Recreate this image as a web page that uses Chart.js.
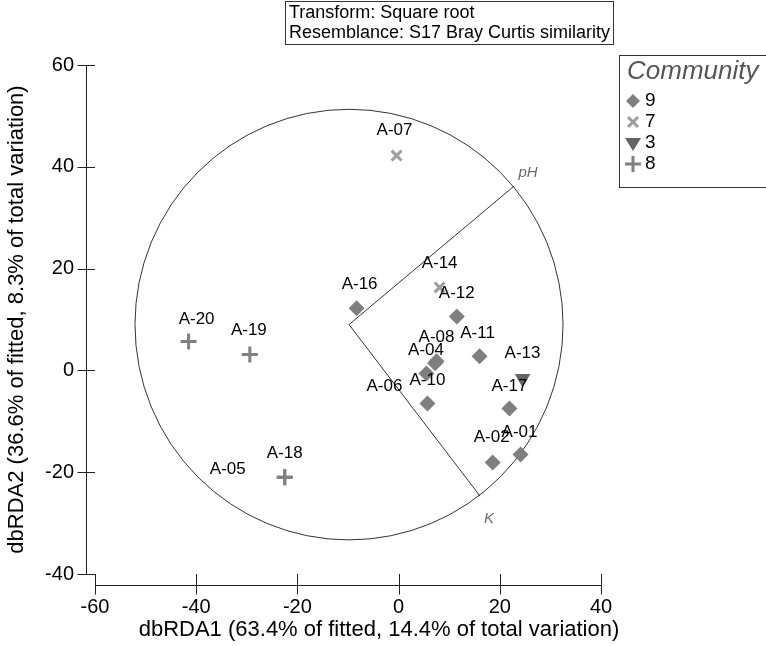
<!DOCTYPE html>
<html>
<head>
<meta charset="utf-8">
<script src="https://cdn.jsdelivr.net/npm/chart.js@4"></script>
<style>
body { margin: 0; background: #fff; }
#wrap { width: 766px; height: 646px; position: relative; }
</style>
</head>
<body>
<div id="wrap"><canvas id="ordination" width="766" height="646"></canvas></div>
<script>
// axis ticks
const xTicks = [-60, -40, -20, 0, 20, 40];
const yTicks = [-40, -20, 0, 20, 40, 60];

// Community 9 (diamonds)
const community9Names = ["A-16", "A-12", "A-11", "A-08", "A-04", "A-10", "A-06", "A-17", "A-02", "A-01"];
const community9X = [-8.3, 11.5, 16.0, 7.5, 7.2, 5.5, 5.7, 21.9, 18.6, 24.1];
const community9Y = [12.2, 10.6, 2.8, 1.8, 1.4, -0.6, -6.5, -7.5, -18.1, -16.5];

// Community 7 (x)
const community7Names = ["A-07", "A-14"];
const community7X = [-0.4, 8.1];
const community7Y = [42.2, 16.3];

// Community 3 (down triangle)
const community3Names = ["A-13"];
const community3X = [24.5];
const community3Y = [-1.6];

// Community 8 (+)
const community8Names = ["A-20", "A-19", "A-18", "A-05"];
const community8X = [-41.5, -29.4, -22.5, -22.5];
const community8Y = [5.7, 3.1, -21.0, -21.0];

// vector overlay
const vectorNames = ["pH", "K"];
const vectorX = [22.8, 16.1];
const vectorY = [36.2, -24.7];
const circleX = -9.8;
const circleY = 9.0;
const circleRadius = 42.3;

const legendTitle = "Community";
const legendNames = ["9", "7", "3", "8"];
const infoLines = ["Transform: Square root", "Resemblance: S17 Bray Curtis similarity"];
const xTitle = "dbRDA1 (63.4% of fitted, 14.4% of total variation)";
const yTitle = "dbRDA2 (36.6% of fitted, 8.3% of total variation)";

// label offsets in pixels from the marker
const labelOffsets = {
    "A-16": [3, -24], "A-12": [0, -23], "A-11": [-2, -23], "A-08": [0, -24],
    "A-04": [-9, -13], "A-10": [1, 7], "A-06": [-43, -17], "A-17": [0, -22],
    "A-02": [-1, -25], "A-01": [-1, -22], "A-07": [-2, -25], "A-14": [0, -24],
    "A-13": [0, -25], "A-20": [8, -22], "A-19": [-1, -24], "A-18": [0, -24],
    "A-05": [-57, -8]
};
const vectorLabelOffsets = { "pH": [14, -13], "K": [9, 23] };

const FONT = "Arial, 'Liberation Sans', sans-serif";
Chart.defaults.font.family = FONT;
Chart.defaults.color = "#000";

function toPoints(xs, ys) {
    return xs.map((x, i) => ({ x: x, y: ys[i] }));
}

const groups = [
    { names: community9Names, style: "rectRot", fill: "#7f7f7f", line: "#7f7f7f", radius: 8, width: 0, rotation: 0 },
    { names: community7Names, style: "crossRot", fill: "#9d9d9d", line: "#9d9d9d", radius: 7, width: 3, rotation: 0 },
    { names: community3Names, style: "triangle", fill: "#646464", line: "#646464", radius: 9, width: 0, rotation: 180 },
    { names: community8Names, style: "cross", fill: "#808080", line: "#808080", radius: 8, width: 3, rotation: 0 }
];
const groupData = [
    toPoints(community9X, community9Y),
    toPoints(community7X, community7Y),
    toPoints(community3X, community3Y),
    toPoints(community8X, community8Y)
];

const datasets = [];
groups.forEach((g, i) => {
    datasets.push({
        label: legendNames[i],
        data: groupData[i],
        pointStyle: g.style,
        pointRadius: g.radius,
        pointRotation: g.rotation,
        backgroundColor: g.fill,
        borderColor: g.line,
        pointBorderWidth: g.width,
        showLine: false,
        order: 1
    });
});
vectorNames.forEach((n, i) => {
    datasets.push({
        label: n,
        data: [{ x: circleX, y: circleY }, { x: vectorX[i], y: vectorY[i] }],
        showLine: true,
        borderColor: "#333",
        borderWidth: 1,
        pointRadius: 0,
        order: 5
    });
});

const circlePlugin = {
    id: "circle",
    beforeDatasetsDraw(chart) {
        const ctx = chart.ctx, xs = chart.scales.x, ys = chart.scales.y;
        const cx = xs.getPixelForValue(circleX), cy = ys.getPixelForValue(circleY);
        const rx = xs.getPixelForValue(circleX + circleRadius) - cx;
        const ry = cy - ys.getPixelForValue(circleY + circleRadius);
        ctx.save();
        ctx.strokeStyle = "#333";
        ctx.lineWidth = 1;
        ctx.beginPath();
        ctx.ellipse(cx, cy, rx, ry, 0, 0, Math.PI * 2);
        ctx.stroke();
        ctx.restore();
    }
};

const labelPlugin = {
    id: "labels",
    afterDatasetsDraw(chart) {
        const ctx = chart.ctx;
        ctx.save();
        ctx.textAlign = "center";
        ctx.textBaseline = "middle";
        ctx.fillStyle = "#000";
        ctx.font = "17px " + FONT;
        groups.forEach((g, i) => {
            chart.getDatasetMeta(i).data.forEach((pt, j) => {
                const off = labelOffsets[g.names[j]] || [0, -24];
                ctx.fillText(g.names[j], pt.x + off[0], pt.y + off[1]);
            });
        });
        ctx.fillStyle = "#6a6a6a";
        ctx.font = "italic 15px " + FONT;
        vectorNames.forEach((n, i) => {
            const pt = chart.getDatasetMeta(groups.length + i).data[1];
            const off = vectorLabelOffsets[n];
            ctx.fillText(n, pt.x + off[0], pt.y + off[1]);
        });
        ctx.restore();
    }
};

const axesPlugin = {
    id: "axes",
    afterDraw(chart) {
        const ctx = chart.ctx, xs = chart.scales.x, ys = chart.scales.y, a = chart.chartArea;
        ctx.save();
        ctx.strokeStyle = "#222";
        ctx.lineWidth = 1;
        ctx.beginPath();
        // y axis, offset to the left
        const ax = Math.round(a.left) - 8.5;
        ctx.moveTo(ax, ys.getPixelForValue(yTicks[yTicks.length - 1]));
        ctx.lineTo(ax, ys.getPixelForValue(yTicks[0]));
        yTicks.forEach(v => {
            const y = Math.round(ys.getPixelForValue(v)) + 0.5;
            ctx.moveTo(ax - 9, y);
            ctx.lineTo(a.left, y);
        });
        // x axis, offset below
        const ay = Math.round(a.bottom) + 11.5;
        ctx.moveTo(xs.getPixelForValue(xTicks[0]), ay);
        ctx.lineTo(xs.getPixelForValue(xTicks[xTicks.length - 1]), ay);
        xTicks.forEach(v => {
            const x = Math.round(xs.getPixelForValue(v)) + 0.5;
            ctx.moveTo(x, a.bottom);
            ctx.lineTo(x, ay + 9);
        });
        ctx.stroke();

        // x title, sits a little right of the axis centre
        ctx.fillStyle = "#000";
        ctx.font = "22px " + FONT;
        ctx.textAlign = "center";
        ctx.textBaseline = "middle";
        ctx.fillText(xTitle, 379, 630);
        ctx.restore();
    }
};

const boxesPlugin = {
    id: "boxes",
    afterDraw(chart) {
        const ctx = chart.ctx;
        ctx.save();
        ctx.strokeStyle = "#333";
        ctx.lineWidth = 1;
        // info box
        ctx.strokeRect(285.5, 1.5, 328, 43);
        ctx.fillStyle = "#000";
        ctx.font = "18px " + FONT;
        ctx.textAlign = "left";
        ctx.textBaseline = "middle";
        ctx.fillText(infoLines[0], 289, 13);
        ctx.fillText(infoLines[1], 289, 33);

        // legend box
        ctx.strokeRect(619.5, 55.5, 160, 132);
        ctx.fillStyle = "#555";
        ctx.font = "italic 26px " + FONT;
        ctx.fillText(legendTitle, 627, 72);
        const rowY = [101, 122, 143, 164];
        groups.forEach((g, i) => {
            const x = 633, y = rowY[i];
            ctx.fillStyle = g.fill;
            ctx.strokeStyle = g.line;
            ctx.lineWidth = 3;
            ctx.beginPath();
            if (g.style === "rectRot") {
                ctx.moveTo(x, y - 7); ctx.lineTo(x + 7, y); ctx.lineTo(x, y + 7); ctx.lineTo(x - 7, y);
                ctx.closePath(); ctx.fill();
            } else if (g.style === "crossRot") {
                ctx.moveTo(x - 5, y - 5); ctx.lineTo(x + 5, y + 5);
                ctx.moveTo(x + 5, y - 5); ctx.lineTo(x - 5, y + 5);
                ctx.stroke();
            } else if (g.style === "triangle") {
                ctx.moveTo(x - 8, y - 5); ctx.lineTo(x + 8, y - 5); ctx.lineTo(x, y + 8);
                ctx.closePath(); ctx.fill();
            } else {
                ctx.moveTo(x - 8, y); ctx.lineTo(x + 8, y);
                ctx.moveTo(x, y - 8); ctx.lineTo(x, y + 8);
                ctx.stroke();
            }
            ctx.fillStyle = "#000";
            ctx.font = "19px " + FONT;
            ctx.fillText(legendNames[i], 645, y);
        });
        ctx.restore();
    }
};

new Chart(ordination, {
    type: "scatter",
    data: { datasets: datasets },
    options: {
        responsive: false,
        animation: false,
        layout: { padding: { top: 65, right: 165, left: 0, bottom: 0 } },
        plugins: {
            legend: { display: false },
            tooltip: { enabled: false }
        },
        scales: {
            x: {
                type: "linear",
                min: -60,
                max: 40,
                afterBuildTicks: s => { s.ticks = xTicks.map(v => ({ value: v })); },
                afterFit: s => { s.height = 72; },
                grid: { display: false, drawTicks: false },
                border: { display: false },
                ticks: { padding: 21, color: "#000", font: { size: 20 } },
                title: { display: false }
            },
            y: {
                type: "linear",
                min: -40,
                max: 60,
                afterBuildTicks: s => { s.ticks = yTicks.map(v => ({ value: v })); },
                afterFit: s => { s.width = 95; },
                grid: { display: false, drawTicks: false },
                border: { display: false },
                ticks: { padding: 21, color: "#000", font: { size: 20 } },
                title: { display: true, text: yTitle, color: "#000", font: { size: 22 }, padding: { top: 4, bottom: 0 } }
            }
        }
    },
    plugins: [circlePlugin, labelPlugin, axesPlugin, boxesPlugin]
});
</script>
</body>
</html>
